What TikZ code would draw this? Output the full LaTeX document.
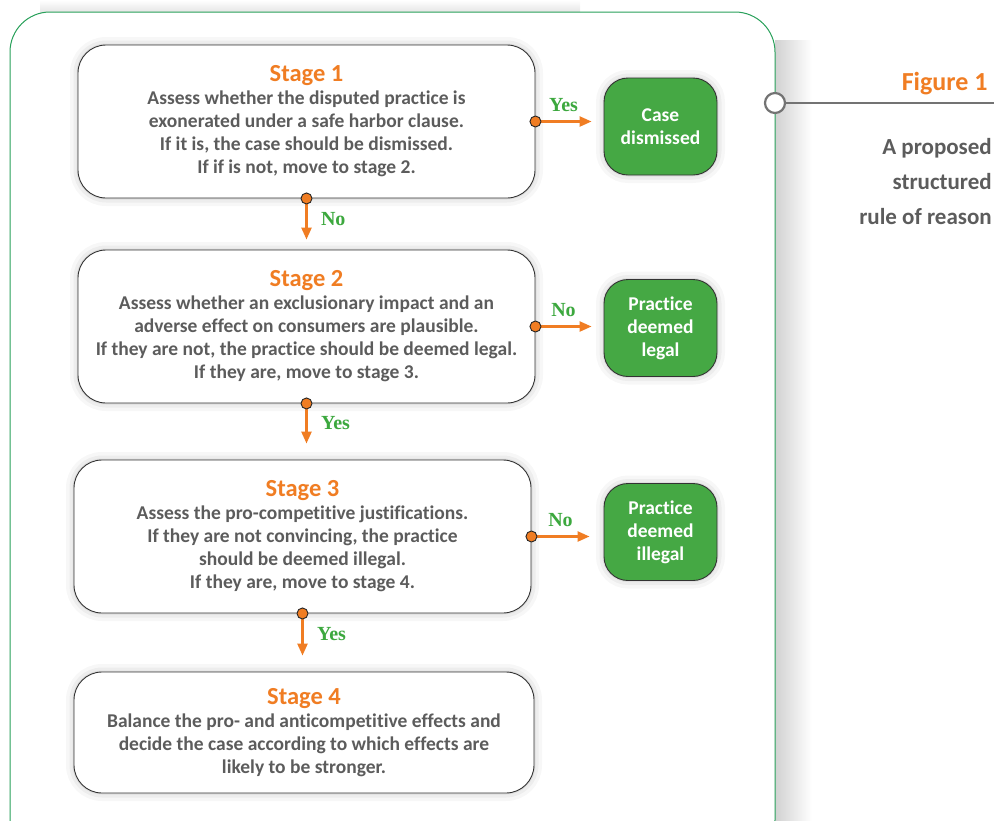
\documentclass[tikz,border=0pt]{standalone}
\usepackage{fontspec}
\setmainfont{Carlito}[Ligatures=NoCommon]
\newfontfamily\labelfont{Liberation Serif}
\usetikzlibrary{arrows.meta,calc,positioning}

\definecolor{stageorange}{RGB}{240,125,35}
\definecolor{okgreen}{RGB}{69,168,68}
\definecolor{lblgreen}{RGB}{60,168,62}
\definecolor{textgray}{RGB}{92,92,92}
\definecolor{panelgreen}{RGB}{40,160,90}

\tikzset{
  halo/.style={preaction={draw=black,line width=16pt,opacity=.03},
               preaction={draw=black,line width=9pt,opacity=.04},
               preaction={draw=black,line width=3pt,opacity=.06}},
  stagebox/.style={draw=black!80, line width=.9pt, fill=white, rounded corners=28pt,
                   halo, align=center, text=textgray, font=\bfseries\fontsize{19.5}{23}\selectfont},
  outcome/.style={draw=black!80, line width=.9pt, fill=okgreen, rounded corners=24pt,
                  halo, align=center, text=white, minimum width=113pt, minimum height=97pt,
                  font=\bfseries\fontsize{19.5}{23}\selectfont},
  flow/.style={draw=stageorange, line width=2.4pt, -{Triangle[length=12pt,width=10pt]}},
  dot/.style={circle, draw=black!85, line width=.9pt, fill=stageorange, inner sep=0pt, minimum size=11pt},
  lbl/.style={text=lblgreen, font=\labelfont\bfseries\fontsize{20}{20}\selectfont},
}
\newcommand{\stagetitle}[1]{{\color{stageorange}\fontsize{24.5}{24}\selectfont #1}}

\begin{document}
\begin{tikzpicture}[x=1pt,y=-1pt]
\useasboundingbox (0,0) rectangle (994,820);
\clip (0,0) rectangle (994,820);

%%% panel and its shadow %%%
\shade[top color=white, bottom color=black!10] (40,0) rectangle (580,12);
\shade[left color=black!18, right color=white] (775,40) rectangle (812,820);
\draw[draw=panelgreen, line width=1pt, fill=white, rounded corners=40pt] (10,12) rectangle (775,860);

%%% stages %%%
\node[stagebox, minimum width=457pt, minimum height=153pt] (s1) at (306.5,121.5)
  {\stagetitle{Stage 1}\\ Assess whether the disputed practice is\\
   exonerated under a safe harbor clause.\\ If it is, the case should be dismissed.\\
   If if is not, move to stage 2.};
\node[stagebox, minimum width=457pt, minimum height=153pt] (s2) at (306.5,326.5)
  {\stagetitle{Stage 2}\\ Assess whether an exclusionary impact and an\\
   adverse effect on consumers are plausible.\\
   If they are not, the practice should be deemed legal.\\ If they are, move to stage 3.};
\node[stagebox, minimum width=457pt, minimum height=153pt] (s3) at (302.5,536.5)
  {\stagetitle{Stage 3}\\ Assess the pro-competitive justifications.\\
   If they are not convincing, the practice\\ should be deemed illegal.\\
   If they are, move to stage 4.};
\node[stagebox, minimum width=460pt, minimum height=121pt] (s4) at (304,732.5)
  {\stagetitle{Stage 4}\\ Balance the pro- and anticompetitive effects and\\
   decide the case according to which effects are\\ likely to be stronger.};

%%% outcomes %%%
\node[outcome] (dismissed) at (660.5,126.5) {Case\\ dismissed};
\node[outcome] (legal) at (660.5,328) {Practice\\ deemed\\ legal};
\node[outcome] (illegal) at (660.5,532) {Practice\\ deemed\\ illegal};

%%% connectors %%%
\draw[flow] (s1.east) -- ($(s1.east -| dismissed.west)+(-12,0)$)
  node[midway, above=5pt, lbl] {Yes};
\draw[flow] (s2.east) -- ($(s2.east -| legal.west)+(-12,0)$)
  node[midway, above=5pt, lbl] {No};
\draw[flow] (s3.east) -- ($(s3.east -| illegal.west)+(-14,0)$)
  node[midway, above=5pt, lbl] {No};
\draw[flow] (s1.south) -- ($(s1.south |- s2.north)+(0,-10)$)
  node[midway, right=10pt, lbl] {No};
\draw[flow] (s2.south) -- ($(s2.south |- s3.north)+(0,-16)$)
  node[midway, right=10pt, lbl] {Yes};
\draw[flow] (s3.south) -- ($(s3.south |- s4.north)+(0,-16)$)
  node[midway, right=10pt, lbl] {Yes};
\foreach \anchor [count=\i] in {s1.east,s2.east,s3.east,s1.south,s2.south,s3.south}
  \node[dot] (dot\i) at (\anchor) {};

%%% figure caption %%%
\node[circle, draw=black!55, line width=2.2pt, fill=white, minimum size=20pt, inner sep=0pt] (pin) at (775,103) {};
\coordinate (capend) at (994,103);
\draw[black!55, line width=2.4pt] (pin) -- (capend);
\node[anchor=base east, text=stageorange, font=\bfseries\fontsize{26}{26}\selectfont] (fig) at (991,90) {Figure 1};
\node[anchor=north east, align=right, text=textgray, inner sep=0pt,
      font=\bfseries\fontsize{23}{35}\selectfont] (cap) at (992,138)
  {A proposed\\ structured\\ rule of reason};
\end{tikzpicture}
\end{document}
